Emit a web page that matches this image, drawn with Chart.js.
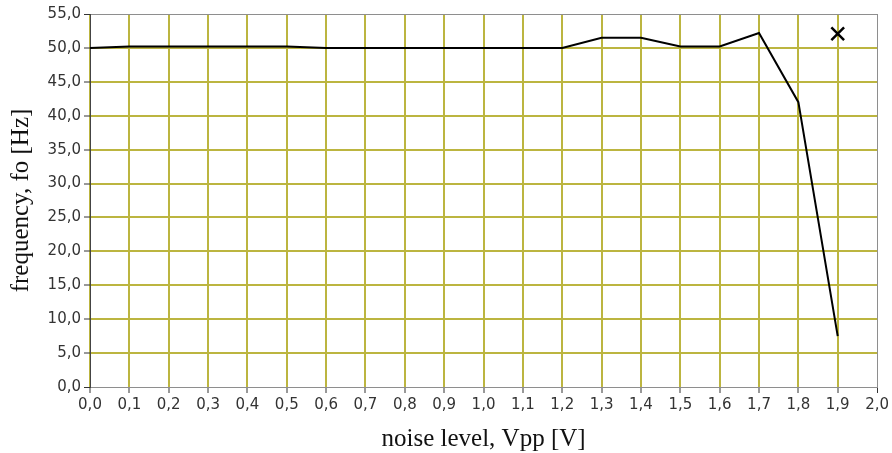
<!DOCTYPE html>
<html>
<head>
<meta charset="utf-8">
<script src="https://cdn.jsdelivr.net/npm/chart.js@4/dist/chart.umd.min.js"></script>
<style>
  html, body { margin: 0; padding: 0; background: #fff; }
  canvas { display: block; }
</style>
</head>
<body>
<canvas id="freqChart" width="892" height="453"></canvas>
<script>
// noise level (Vpp) vs measured frequency
const noiseLevels = [0.0, 0.1, 0.2, 0.3, 0.4, 0.5, 0.6, 0.7, 0.8, 0.9, 1.0, 1.1, 1.2, 1.3, 1.4, 1.5, 1.6, 1.7, 1.8, 1.9];
const frequencies = [50.0, 50.2, 50.2, 50.2, 50.2, 50.2, 50.0, 50.0, 50.0, 50.0, 50.0, 50.0, 50.0, 51.5, 51.5, 50.2, 50.2, 52.2, 42.0, 7.5];

// single cross marker
const markerX = [1.9];
const markerY = [52.1];

const xMin = 0, xMax = 2.0, xStep = 0.1;
const yMin = 0, yMax = 55, yStep = 5;

const gridOlive = '#bcb540';
const frameGray = '#8e8e8e';

// one colour / width per grid line, thin frame colour on the outer edges
const xTickCount = Math.round((xMax - xMin) / xStep) + 1;
const yTickCount = Math.round((yMax - yMin) / yStep) + 1;
const isXEdge = i => i === xTickCount - 1;
const isYEdge = i => i === 0 || i === yTickCount - 1;
const xGridColors = Array.from({ length: xTickCount }, (_, i) => isXEdge(i) ? frameGray : gridOlive);
const yGridColors = Array.from({ length: yTickCount }, (_, i) => isYEdge(i) ? frameGray : gridOlive);
const xGridWidths = Array.from({ length: xTickCount }, (_, i) => isXEdge(i) ? 1 : 2);
const yGridWidths = Array.from({ length: yTickCount }, (_, i) => isYEdge(i) ? 1 : 2);

const fmt = v => Number(v).toFixed(1).replace('.', ',');

const ctx = document.getElementById('freqChart').getContext('2d');
new Chart(ctx, {
  type: 'scatter',
  data: {
    datasets: [
      {
        data: noiseLevels.map((x, i) => ({ x: x, y: frequencies[i] })),
        showLine: true,
        borderColor: '#000',
        borderWidth: 2,
        pointRadius: 0,
        tension: 0
      },
      {
        data: markerX.map((x, i) => ({ x: x, y: markerY[i] })),
        showLine: false,
        pointStyle: 'crossRot',
        pointRadius: 9,
        borderColor: '#000',
        borderWidth: 2.5
      }
    ]
  },
  options: {
    responsive: false,
    animation: false,
    devicePixelRatio: 1,
    layout: { padding: { left: 0, right: 13, top: 14, bottom: 0 } },
    plugins: {
      legend: { display: false },
      tooltip: { enabled: false }
    },
    scales: {
      x: {
        type: 'linear',
        min: xMin,
        max: xMax,
        afterFit: s => { s.height = 66; },
        ticks: {
          stepSize: xStep,
          autoSkip: false,
          maxRotation: 0,
          padding: 3,
          color: '#333',
          font: { family: 'DejaVu Sans', size: 15 },
          callback: v => fmt(v)
        },
        grid: {
          color: xGridColors,
          lineWidth: xGridWidths,
          tickLength: 6,
          tickColor: '#333',
          tickWidth: 1
        },
        border: { color: frameGray, width: 1 },
        title: {
          display: true,
          text: 'noise level, Vpp [V]',
          color: '#111',
          font: { family: 'Liberation Serif', size: 25, lineHeight: 1.0 },
          padding: { top: 0, bottom: 1 }
        }
      },
      y: {
        min: yMin,
        max: yMax,
        afterFit: s => { s.width = 90; },
        ticks: {
          stepSize: yStep,
          padding: 3,
          color: '#333',
          font: { family: 'DejaVu Sans', size: 15 },
          callback: v => fmt(v)
        },
        grid: {
          color: yGridColors,
          lineWidth: yGridWidths,
          tickLength: 6,
          tickColor: '#333',
          tickWidth: 1
        },
        border: { color: '#444', width: 1 },
        title: {
          display: true,
          text: 'frequency, fo [Hz]',
          color: '#111',
          font: { family: 'Liberation Serif', size: 25, lineHeight: 1.0 },
          padding: { top: 9, bottom: 0 }
        }
      }
    }
  }
});
</script>
</body>
</html>
